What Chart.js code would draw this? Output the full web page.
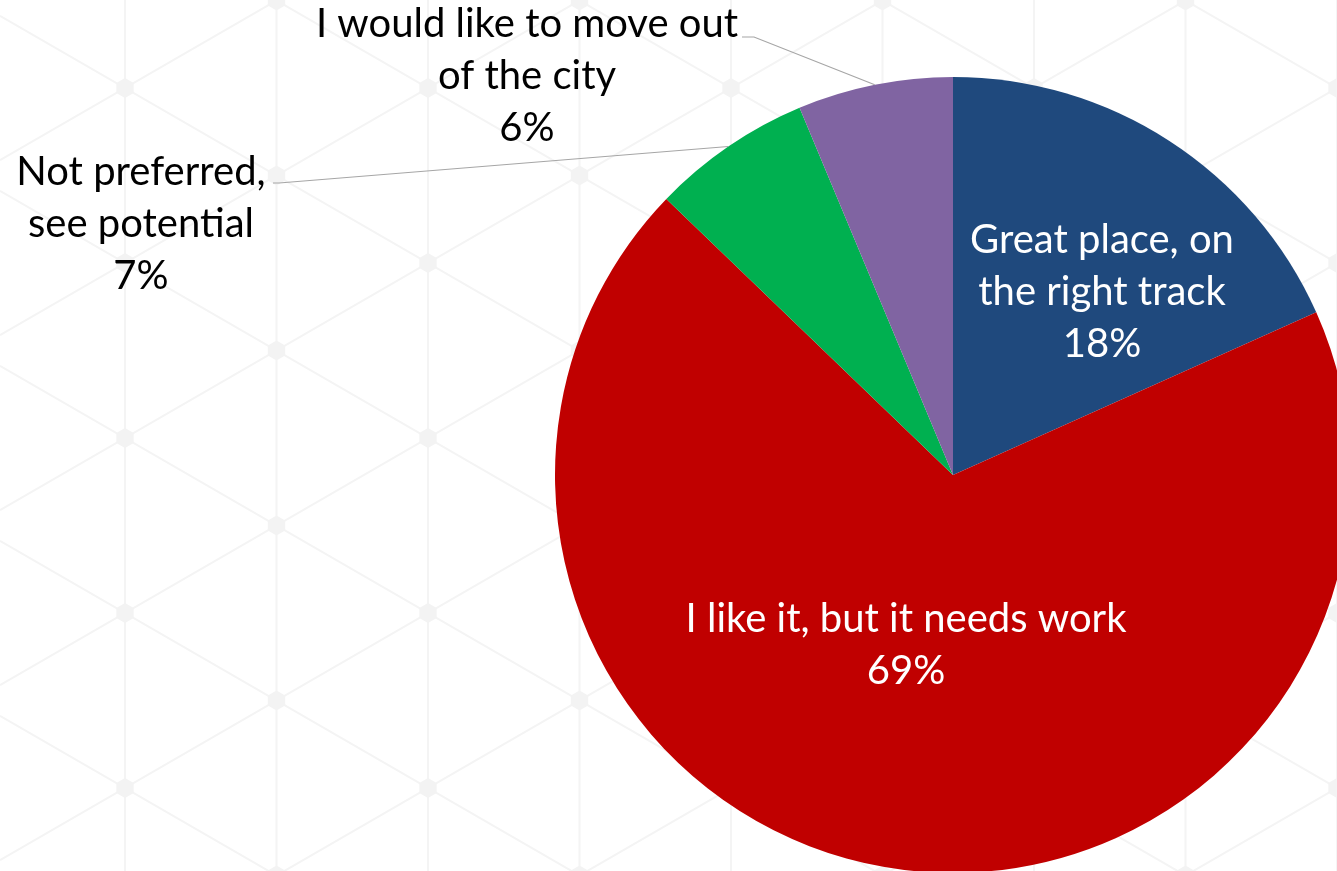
<!DOCTYPE html>
<html>
<head>
<meta charset="utf-8">
<title>City opinion</title>
<script src="https://cdn.jsdelivr.net/npm/chart.js@4.4.1/dist/chart.umd.min.js"></script>
<style>
    html, body { margin: 0; padding: 0; background: #fff; overflow: hidden; width: 1337px; height: 871px; }
    #wrap { position: absolute; left: 0; top: 0; width: 1400px; height: 900px; }
</style>
</head>
<body>
<div id="wrap"><canvas id="chartOpinion" width="1400" height="900"></canvas></div>
<script>
// --- dados ---
const categories = [
    'Great place, on the right track',
    'I like it, but it needs work',
    'Not preferred, see potential',
    'I would like to move out of the city'
];
const labelLines = [
    ['Great place, on', 'the right track'],
    ['I like it, but it needs work'],
    ['Not preferred,', 'see potential'],
    ['I would like to move out', 'of the city']
];
const shares = [18.3, 68.9, 6.5, 6.3];
const pctLabels = ['18%', '69%', '7%', '6%'];
const sliceColors = ['#1F497D', '#C00000', '#00B050', '#8064A2'];

// --- posição dos rótulos (layout, não dados) ---
const labelLayout = [
    { x: 1102, y: 253, color: '#ffffff' },
    { x: 906, y: 632, color: '#ffffff' },
    { x: 141, y: 185, color: '#000000', leader: [273, 183, 279, 183] },
    { x: 527, y: 37, color: '#000000', leader: [742, 37, 754, 37] }
];
const FONT = '40px Lato, "Open Sans", sans-serif';
const LINE_H = 52;

// fundo hexagonal bem claro
const hexBackground = {
    id: 'hexBackground',
    beforeDraw(chart) {
        const c = chart.ctx;
        const W = chart.width, H = chart.height;
        const dx = 151.5, half = 87.5, x0 = 125, y0 = 88;
        const s = half / dx;
        c.save();
        c.fillStyle = '#ffffff';
        c.fillRect(0, 0, W, H);
        c.strokeStyle = '#f4f4f4';
        c.lineWidth = 2;
        c.beginPath();
        for (let x = x0 - dx; x < W + dx; x += dx) {
            c.moveTo(x, 0);
            c.lineTo(x, H);
        }
        for (let m = -12; m <= 14; m++) {
            const yb = y0 + m * 2 * half;
            c.moveTo(0, yb - s * x0);
            c.lineTo(W, yb + s * (W - x0));
            c.moveTo(0, yb + s * x0);
            c.lineTo(W, yb - s * (W - x0));
        }
        c.stroke();
        c.fillStyle = '#f3f3f3';
        for (let i = -1; i * dx + x0 < W + dx; i++) {
            for (let j = -2; j * half + y0 < H + half; j++) {
                if ((i + j) % 2 !== 0) continue;
                const cx = x0 + i * dx, cy = y0 + j * half;
                c.beginPath();
                for (let k = 0; k < 6; k++) {
                    const a = Math.PI / 6 + k * Math.PI / 3;
                    c.lineTo(cx + 10 * Math.cos(a), cy + 10 * Math.sin(a));
                }
                c.closePath();
                c.fill();
            }
        }
        c.restore();
    }
};

// rótulos dentro/fora + linhas guia
const sliceLabels = {
    id: 'sliceLabels',
    afterDatasetsDraw(chart) {
        const c = chart.ctx;
        const arcs = chart.getDatasetMeta(0).data;
        c.save();
        c.font = FONT;
        c.textAlign = 'center';
        c.textBaseline = 'alphabetic';
        arcs.forEach((arc, i) => {
            const lay = labelLayout[i];
            if (lay.leader) {
                const p = arc.getProps(['x', 'y', 'startAngle', 'endAngle', 'outerRadius'], true);
                const mid = (p.startAngle + p.endAngle) / 2;
                c.strokeStyle = '#a6a6a6';
                c.lineWidth = 1.2;
                c.beginPath();
                c.moveTo(lay.leader[0], lay.leader[1]);
                c.lineTo(lay.leader[2], lay.leader[3]);
                c.lineTo(p.x + Math.cos(mid) * p.outerRadius, p.y + Math.sin(mid) * p.outerRadius);
                c.stroke();
            }
            const lines = [...labelLines[i], pctLabels[i]];
            c.fillStyle = lay.color;
            lines.forEach((t, k) => c.fillText(t, lay.x, lay.y + k * LINE_H));
        });
        c.restore();
    }
};

new Chart(document.getElementById('chartOpinion'), {
    type: 'pie',
    data: {
        labels: categories,
        datasets: [{
            data: shares,
            backgroundColor: sliceColors,
            borderWidth: 0
        }]
    },
    options: {
        responsive: false,
        animation: false,
        layout: { padding: { left: 555, top: 77, right: 49, bottom: 27 } },
        plugins: {
            legend: { display: false },
            tooltip: { enabled: false }
        }
    },
    plugins: [hexBackground, sliceLabels]
});
</script>
</body>
</html>
